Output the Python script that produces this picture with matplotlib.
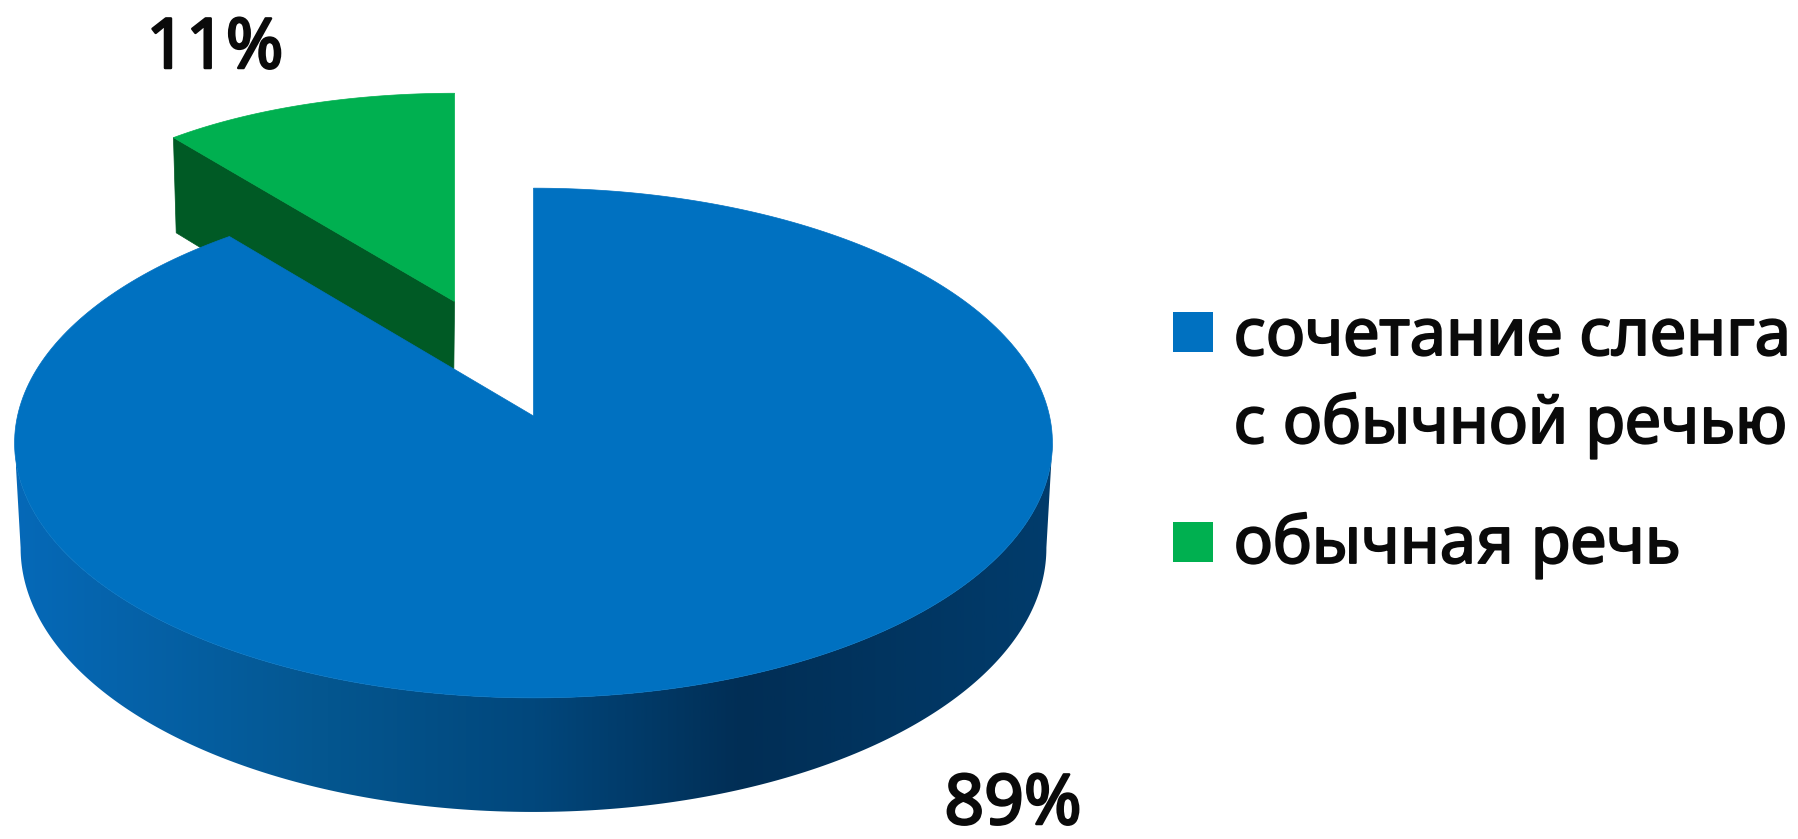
"""3D-style exploded pie: slang combined with ordinary speech vs ordinary speech."""
import numpy as np
import matplotlib
matplotlib.use("Agg")
import matplotlib.pyplot as plt
import matplotlib.patheffects as pe
from matplotlib.colors import LinearSegmentedColormap
from matplotlib.patches import Polygon, Rectangle

CATEGORIES = ["сочетание сленга\nс обычной речью", "обычная речь"]
SHARES = [89, 11]
PCT_LABELS = ["89%", "11%"]

BLUE = "#0071C1"
GREEN = "#00B050"
DARK_GREEN = "#005A25"
INK = "#0A0A0A"
SIDE_STOPS = ["#0669B8", "#04568F", "#01477C", "#012E55", "#013C6C"]

plt.rcParams["font.family"] = ["Noto Sans", "DejaVu Sans"]

W, H = 1799, 839
PERSP = 0.106
TOP = dict(x0=533.5, y0=416.0, a=516.0, b=252.0, px=PERSP)
BOTTOM = dict(x0=533.5, y0=520.0, a=510.0, b=261.0, px=PERSP)
# the pulled-out slice has a narrower look in x than the main body
G_TOP = dict(x0=530.0, y0=416.0, a=441.0, b=253.0, px=0.0)
G_BOTTOM = dict(x0=527.9, y0=520.0, a=435.0, b=261.0, px=0.0)
EXPLODE = 0.505


def project(u, v, plane):
    """Pie-plane position to pixels, far side (v > 0) shrunk by perspective."""
    return (plane["x0"] + plane["a"] * u / (1 + plane["px"] * v),
            plane["y0"] - plane["b"] * v / (1 + PERSP * v))


def arc(t0, t1, plane, off=(0.0, 0.0)):
    t = np.linspace(t0, t1, 300)
    return np.column_stack(project(np.sin(t) + off[0], np.cos(t) + off[1], plane))


fig = plt.figure(figsize=(W / 100, H / 100), dpi=100)
ax = fig.add_axes([0, 0, 1, 1])

edges = np.deg2rad(np.cumsum([0] + SHARES) * 3.6)

# green slice, pulled out along its bisector, sits behind the blue one
g0, g1 = edges[1], edges[2]
phi = (g0 + g1) / 2
off = (EXPLODE * np.sin(phi), EXPLODE * np.cos(phi))
c_top, c_bot = project(*off, G_TOP), project(*off, G_BOTTOM)
p_top = arc(g0, g0, G_TOP, off)[0]
p_bot = arc(g0, g0, G_BOTTOM, off)[0]
ax.add_patch(Polygon([c_top, p_top, p_bot, c_bot], fc=DARK_GREEN, ec=DARK_GREEN, lw=0.5))
ax.add_patch(Polygon(np.vstack([c_top, arc(g0, g1, G_TOP, off)]), fc=GREEN, ec=GREEN, lw=0.5))

# blue side wall with the left-to-right shading
b0, b1 = edges[0], edges[1]
front = np.deg2rad(96), np.deg2rad(264)
wall = np.vstack([arc(*front, BOTTOM), arc(*front, TOP)[::-1]])
wall_patch = Polygon(wall, fc="none", ec="none")
ax.add_patch(wall_patch)
cmap = LinearSegmentedColormap.from_list(
    "side", list(zip([0, 0.30, 0.50, 0.70, 1.0], SIDE_STOPS)))
img = ax.imshow(np.linspace(0, 1, 512)[None, :], cmap=cmap, extent=[16, 1054, 839, 0],
                aspect="auto", zorder=2, vmin=0, vmax=1)
img.set_clip_path(wall_patch)

# blue top face
apex = project(0.0, 0.0, TOP)
ax.add_patch(Polygon(np.vstack([apex, arc(b0, b1, TOP)]), fc=BLUE, ec=BLUE, lw=0.5, zorder=3))

# percent labels
heavy = [pe.withStroke(linewidth=1.8, foreground=INK)]
medium = [pe.withStroke(linewidth=1.4, foreground=INK)]
ax.text(1013, 824, PCT_LABELS[0], fontsize=50, ha="center", va="baseline", color=INK,
        zorder=4, path_effects=heavy)
ax.text(215, 68, PCT_LABELS[1], fontsize=50, ha="center", va="baseline", color=INK,
        zorder=4, path_effects=heavy)

# legend, placed by hand because the swatch lines up with the first text line
ax.add_patch(Rectangle((1173, 312), 40, 40, fc=BLUE, ec="none"))
ax.add_patch(Rectangle((1173, 522), 40, 40, fc=GREEN, ec="none"))
first, second = CATEGORIES[0].split("\n")
for x, y, label in [(1234, 355, first), (1234, 443, second), (1234, 563, CATEGORIES[1])]:
    ax.text(x, y, label, fontsize=47, va="baseline", color=INK, path_effects=medium)

ax.set_xlim(0, W)
ax.set_ylim(H, 0)
ax.axis("off")
fig.savefig("out.png", dpi=100)
